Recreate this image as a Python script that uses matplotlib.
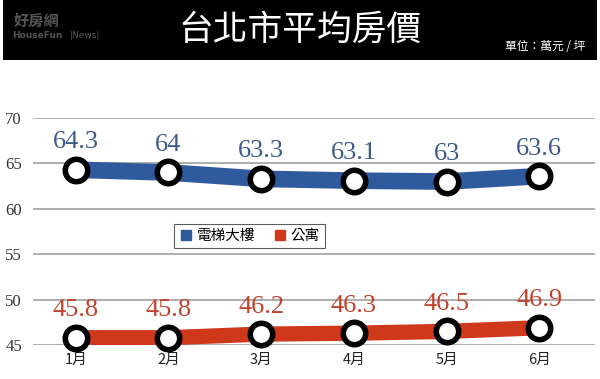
import matplotlib
matplotlib.use('Agg')
import matplotlib.pyplot as plt
from matplotlib.lines import Line2D
from matplotlib.patches import Rectangle

plt.rcParams['font.family'] = ['Noto Sans CJK TC', 'DejaVu Sans']

# 資料
months = ['1月', '2月', '3月', '4月', '5月', '6月']
elevator = [64.3, 64, 63.3, 63.1, 63, 63.6]   # 電梯大樓
apartment = [45.8, 45.8, 46.2, 46.3, 46.5, 46.9]  # 公寓
yticks = [45, 50, 55, 60, 65, 70]

blue = '#2f5b9e'
blue_txt = '#3b5a8a'
red = '#d0381c'
red_txt = '#c0432d'

fig = plt.figure(figsize=(6, 3.79), dpi=100)

# 上方黑色標題列
fig.patches.append(Rectangle((0.005, 1 - 60 / 379), 0.99, 60 / 379, transform=fig.transFigure,
                             facecolor='black', edgecolor='none', zorder=0))
fig.text(0.5, 1 - 30 / 379, '台北市平均房價', color='white', fontsize=25, fontweight='light',
         ha='center', va='center')
fig.text(0.975, 1 - 47 / 379, '單位：萬元 / 坪', color='white', fontsize=8.5,
         ha='right', va='center')
fig.text(0.06, 1 - 21 / 379, '好房網', color='#555555', fontsize=11, fontweight='bold',
         ha='center', va='center')
fig.text(0.021, 1 - 36 / 379, 'HouseFun', color='#555555', fontsize=6.5, fontweight='bold',
         ha='left', va='center', family='DejaVu Sans')
fig.text(0.117, 1 - 36 / 379, '|News|', color='#555555', fontsize=6.5,
         ha='left', va='center', family='DejaVu Sans')

ax = fig.add_axes([33 / 600, 1 - 345 / 379, 562 / 600, 227 / 379])
x = list(range(len(months)))

ax.plot(x, elevator, color=blue, lw=12, solid_capstyle='butt', zorder=3)
ax.plot(x, apartment, color=red, lw=11, solid_capstyle='butt', zorder=3)
ax.scatter(x, elevator, s=260, facecolor='white', edgecolor='black', linewidth=4, zorder=4, clip_on=False)
ax.scatter(x, apartment, s=260, facecolor='white', edgecolor='black', linewidth=4, zorder=4, clip_on=False)

for xi, v in zip(x, elevator):
    ax.text(xi, v + 1.8, f'{v:g}', color=blue_txt, fontsize=19, ha='center', va='bottom',
            family='Liberation Serif', zorder=5)
for xi, v in zip(x, apartment):
    ax.text(xi, v + 1.8, f'{v:g}', color=red_txt, fontsize=19, ha='center', va='bottom',
            family='Liberation Serif', zorder=5)

ax.set_xlim(-0.46, 5.6)
ax.set_ylim(45, 70)
ax.set_yticks(yticks)
ax.set_yticklabels([str(t) for t in yticks], family='Liberation Serif', fontsize=12, color='#333333')
ax.set_xticks(x)
ax.set_xticklabels(months, fontsize=10.5, color='#222222')
ax.tick_params(length=0, pad=6)
ax.tick_params(axis='y', pad=8)
ax.grid(axis='y', color='#a8a8a8', lw=1.3)
ax.set_axisbelow(True)
for s in ax.spines.values():
    s.set_visible(False)

handles = [Line2D([], [], marker='s', ls='none', color=blue, markersize=7),
           Line2D([], [], marker='s', ls='none', color=red, markersize=7)]
leg = ax.legend(handles, ['電梯大樓', '公寓'], loc='upper left', bbox_to_anchor=(0.238, 0.565),
                ncol=2, frameon=True, fancybox=False, fontsize=10.5, handletextpad=0.2,
                columnspacing=1.2, borderpad=0.35, handlelength=1.0)
leg.get_frame().set_edgecolor('#333333')
leg.get_frame().set_linewidth(0.8)

fig.savefig('out.png', dpi=100)
